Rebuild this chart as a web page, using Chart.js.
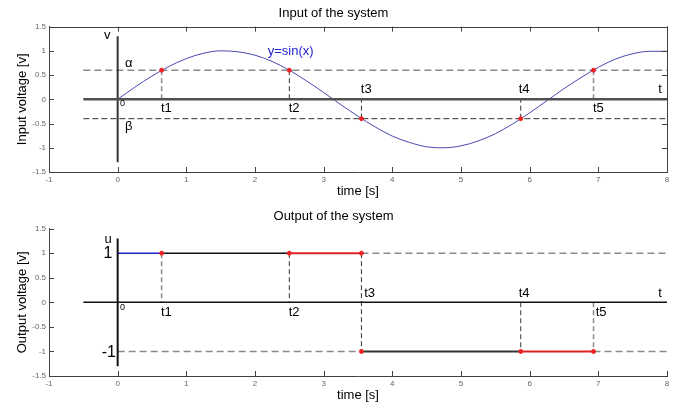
<!DOCTYPE html>
<html>
<head>
<meta charset="utf-8">
<script src="https://cdn.jsdelivr.net/npm/chart.js@4.4.1/dist/chart.umd.min.js"></script>
<style>
  html, body { margin: 0; padding: 0; background: #fff; }
  #wrap { position: relative; width: 686px; height: 408px; }
  #inputBox { position: absolute; left: 0; top: 0; width: 686px; height: 200px; }
  #outputBox { position: absolute; left: 0; top: 200px; width: 686px; height: 208px; }
</style>
</head>
<body>
<div id="wrap">
  <div id="inputBox"><canvas id="inputChart" width="686" height="200"></canvas></div>
  <div id="outputBox"><canvas id="outputChart" width="686" height="208"></canvas></div>
</div>
<script>
// input curve y=sin(x)
const timeX = [0, 0.25, 0.5, 0.75, 1, 1.25, 1.5, 1.75, 2, 2.25, 2.5, 2.75, 3, 3.25, 3.5, 3.75,
    4, 4.25, 4.5, 4.75, 5, 5.25, 5.5, 5.75, 6, 6.25, 6.5, 6.75, 7, 7.25, 7.5, 7.75, 8];
const inputY = [0, 0.25, 0.48, 0.68, 0.84, 0.95, 1.00, 0.98, 0.91, 0.78, 0.60, 0.38, 0.14, -0.11, -0.35, -0.57,
    -0.76, -0.89, -0.98, -1.00, -0.96, -0.86, -0.71, -0.51, -0.28, -0.03, 0.22, 0.45, 0.66, 0.83, 0.94, 0.99, 0.99];

// switching instants t1..t5 and input value there
const crossT = [0.64, 2.50, 3.55, 5.87, 6.93];
const crossIn = [0.6, 0.6, -0.4, -0.4, 0.6];
const alphaLevel = 0.6;
const betaLevel = -0.4;

// output levels
const outHigh = 1;
const outLow = -1;
const dropFrom = [1, 1, 1, 0, 0];
const dropTo = [0, 0, -1, -1, -1];

// drawn axes through the origin
const axisSpanX = [-0.5, 8];
const axisSpanY = [-1.3, 1.3];

const xTicks = [-1, 0, 1, 2, 3, 4, 5, 6, 7, 8];
const yTicks = [-1.5, -1, -0.5, 0, 0.5, 1, 1.5];

// text notes: [text, x, y]
const inputNotes = [['v', -0.15, 1.31], ['α', 0.16, 0.73], ['β', 0.16, -0.55], ['0', 0.07, -0.09],
    ['t1', 0.71, -0.18], ['t2', 2.57, -0.18], ['t3', 3.62, 0.21], ['t4', 5.92, 0.21],
    ['t5', 7.0, -0.18], ['t', 7.9, 0.21], ['y=sin(x)', 2.52, 0.99]];
const outputNotes = [['u', -0.14, 1.28], ['1', -0.14, 1.0], ['-1', -0.13, -1.02], ['0', 0.07, -0.11],
    ['t1', 0.71, -0.2], ['t2', 2.57, -0.21], ['t3', 3.67, 0.19], ['t4', 5.92, 0.19],
    ['t5', 7.04, -0.2], ['t', 7.9, 0.19]];

const FONT = "'Liberation Sans', Arial, sans-serif";
Chart.defaults.font.family = FONT;

const GRAY = '#8a8a8a';
const DARK = '#333333';
const RED = '#ee2222';

function seg(xs, ys, color, width, dash) {
    return {
        data: xs.map((x, i) => ({ x: x, y: ys[i] })),
        borderColor: color,
        borderWidth: width,
        borderDash: dash || [],
        pointRadius: 0,
        fill: false,
        tension: 0,
        order: 2
    };
}

function redDots(xs, ys) {
    return {
        data: xs.map((x, i) => ({ x: x, y: ys[i] })),
        showLine: false,
        pointRadius: 2,
        pointBackgroundColor: RED,
        pointBorderColor: RED,
        order: 0
    };
}

function dropLines(froms, tos) {
    return crossT.map((t, i) => seg([t, t], [froms[i], tos[i]],
        (i === 0 || i === 4) ? GRAY : DARK, i === 0 || i === 4 ? 1.5 : 1, [5, 3]));
}

// notes + inward MATLAB-style ticks
const framePlugin = {
    id: 'frame',
    afterDatasetsDraw(chart, args, opts) {
        const { ctx, chartArea: a, scales: { x, y } } = chart;
        ctx.save();
        ctx.strokeStyle = '#404040';
        ctx.lineWidth = 1;
        ctx.beginPath();
        xTicks.forEach(v => {
            const px = Math.round(x.getPixelForValue(v)) + 0.5;
            ctx.moveTo(px, a.bottom);
            ctx.lineTo(px, a.bottom - 5);
            if (opts.boxed) {
                ctx.moveTo(px, a.top);
                ctx.lineTo(px, a.top + 5);
            }
        });
        yTicks.forEach(v => {
            const py = Math.round(y.getPixelForValue(v)) + 0.5;
            ctx.moveTo(a.left, py);
            ctx.lineTo(a.left + 5, py);
            if (opts.boxed) {
                ctx.moveTo(a.right, py);
                ctx.lineTo(a.right - 5, py);
            }
        });
        if (opts.boxed) {
            ctx.moveTo(a.left, Math.round(a.top) + 0.5);
            ctx.lineTo(a.right, Math.round(a.top) + 0.5);
            ctx.moveTo(Math.round(a.right) + 0.5, a.top);
            ctx.lineTo(Math.round(a.right) + 0.5, a.bottom);
        }
        ctx.stroke();

        ctx.textAlign = 'center';
        ctx.textBaseline = 'middle';
        opts.notes.forEach(([txt, vx, vy]) => {
            let size = 13;
            if (txt === '0') size = 9;
            if (txt === '1' || txt === '-1') size = 16;
            ctx.font = size + 'px ' + FONT;
            ctx.fillStyle = txt === 'y=sin(x)' ? '#2222cc' : '#000';
            ctx.fillText(txt, x.getPixelForValue(vx), y.getPixelForValue(vy));
        });
        ctx.restore();
    }
};

function makeOptions(title, yTitle, t, xh, titlePad, xTitlePad) {
    return {
        responsive: false,
        animation: false,
        events: [],
        layout: { padding: { left: 0, right: 19, top: 0, bottom: 0 } },
        plugins: {
            legend: { display: false },
            tooltip: { enabled: false },
            title: {
                display: true, text: title, color: '#000',
                font: { size: 13, weight: 'normal' }, padding: titlePad
            },
            frame: { boxed: t.boxed, notes: t.notes }
        },
        scales: {
            x: {
                type: 'linear', min: -1, max: 8,
                afterBuildTicks: s => { s.ticks = xTicks.map(v => ({ value: v })); },
                afterFit: s => { s.height = xh; },
                ticks: { color: '#666', font: { size: 8 }, padding: 3, maxRotation: 0,
                    callback: v => String(v) },
                grid: { display: false, drawTicks: false },
                border: { display: true, color: '#404040', width: 1 },
                title: {
                    display: true, text: 'time [s]', color: '#000',
                    font: { size: 13 }, padding: xTitlePad
                }
            },
            y: {
                min: -1.5, max: 1.5,
                afterBuildTicks: s => { s.ticks = yTicks.map(v => ({ value: v })); },
                afterFit: s => { s.width = 49; },
                ticks: { color: '#666', font: { size: 8 }, padding: 3,
                    callback: v => String(v) },
                grid: { display: false, drawTicks: false },
                border: { display: true, color: '#404040', width: 1 },
                title: {
                    display: true, text: yTitle, color: '#000',
                    font: { size: 13 }, padding: { top: 15, bottom: 0 }
                }
            }
        }
    };
}

// Input chart
const inputSets = [
    seg(axisSpanX, [0, 0], '#505050', 2.5),
    seg([0, 0], axisSpanY, DARK, 2),
    seg(axisSpanX, [alphaLevel, alphaLevel], GRAY, 1.5, [7, 4]),
    seg(axisSpanX, [betaLevel, betaLevel], DARK, 1, [6, 3]),
    ...dropLines(crossIn, crossIn.map(() => 0)),
    Object.assign(seg(timeX, inputY, '#4848b0', 1), { cubicInterpolationMode: 'monotone' }),
    redDots(crossT, crossIn)
];

new Chart(document.getElementById('inputChart'), {
    type: 'line',
    data: { datasets: inputSets },
    options: makeOptions('Input of the system', 'Input voltage [v]',
        { boxed: true, notes: inputNotes }, 28, { top: 6, bottom: 5 }, { top: 0, bottom: 1 }),
    plugins: [framePlugin]
});

// Output chart
const [t1, t2, t3, t4, t5] = crossT;
const outputSets = [
    seg(axisSpanX, [0, 0], '#111', 1.5),
    seg([0, 0], axisSpanY, '#111', 2),
    ...dropLines(dropFrom, dropTo),
    seg([t3, 8], [outHigh, outHigh], GRAY, 1.5, [7, 4]),
    seg([0, t3], [outLow, outLow], GRAY, 1.5, [7, 4]),
    seg([t5, 8], [outLow, outLow], GRAY, 1.5, [7, 4]),
    seg([0, t1], [outHigh, outHigh], '#2020c8', 1.5),
    seg([t1, t2], [outHigh, outHigh], '#111', 1.5),
    seg([t2, t3], [outHigh, outHigh], '#dd2222', 2),
    seg([t3, t4], [outLow, outLow], '#333', 2),
    seg([t4, t5], [outLow, outLow], '#dd2222', 2),
    redDots([t1, t2, t3, t3, t4, t5], [outHigh, outHigh, outHigh, outLow, outLow, outLow])
];

new Chart(document.getElementById('outputChart'), {
    type: 'line',
    data: { datasets: outputSets },
    options: makeOptions('Output of the system', 'Output voltage [v]',
        { boxed: false, notes: outputNotes }, 32, { top: 9, bottom: 4 }, { top: 0, bottom: 5 }),
    plugins: [framePlugin]
});
</script>
</body>
</html>
